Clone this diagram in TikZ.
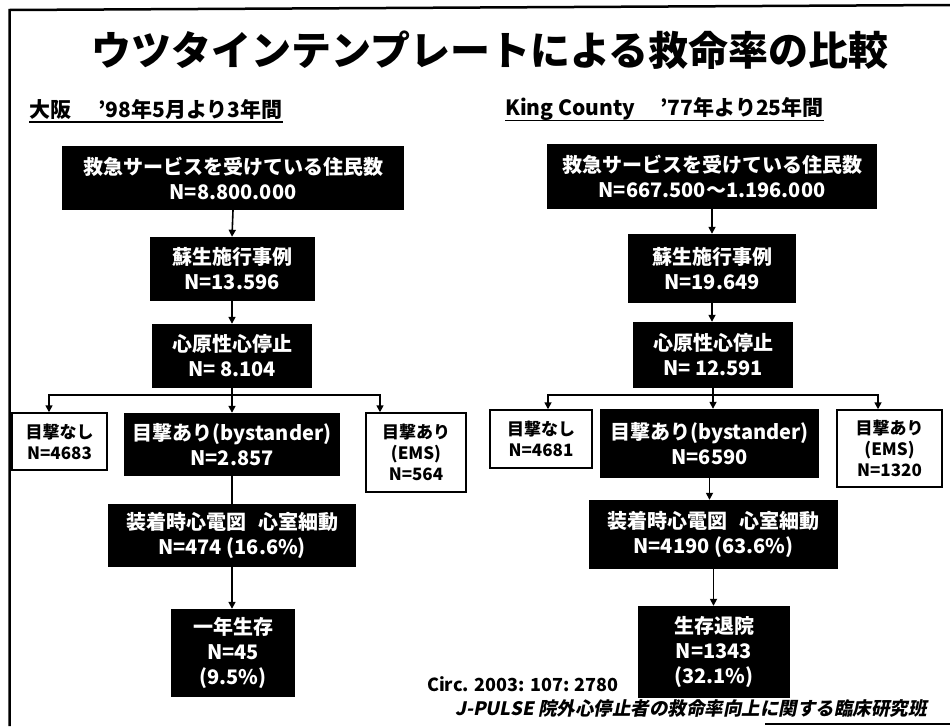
\documentclass[tikz,border=0pt]{standalone}
\usepackage{fontspec}
\setmainfont{Noto Sans CJK JP}
\newfontfamily\jpit{Noto Sans CJK JP}[FakeSlant=0.2]
\usetikzlibrary{arrows.meta}
\tikzset{
  blk/.style={fill=black, text=white, inner sep=0pt, align=center,
    font=\bfseries\fontsize{20}{25}\selectfont},
  wht/.style={draw=black, line width=1.5pt, fill=white, inner sep=0pt, align=center,
    font=\bfseries\fontsize{17}{21}\selectfont},
  conn/.style={line width=1.6pt},
  arr/.style={conn, -{Triangle[length=7pt,width=7pt]}},
  subt/.style={anchor=west, inner sep=0pt, font=\bfseries\fontsize{21}{21}\selectfont},
  frame/.style={line width=2.5pt},
}
\begin{document}
\begin{tikzpicture}[x=1pt,y=-1pt]
\useasboundingbox (0,0) rectangle (950,726);
% frame
\draw[frame] (9.5,726) -- (9.5,10) -- (950,5);
\draw[line width=1.5pt] (765,724) -- (950,724);
% title
\node[inner sep=0pt, font=\bfseries\fontsize{40}{40}\selectfont] (title) at (490,50) {ウツタインテンプレートによる救命率の比較};
% subtitles
\node[subt] (s1) at (29,109) {大阪\hspace{1.3em}’98年5月より3年間};
\node[subt] (s2) at (505,109) {King County\hspace{1.2em}’77年より25年間};
\draw[line width=1.6pt] ([yshift=-5pt]s1.base west) -- ([yshift=-5pt]s1.base east);
\draw[line width=1.6pt] ([yshift=-5pt]s2.base west) -- ([yshift=-5pt]s2.base east);

% ---------- left (Osaka) ----------
\node[blk, minimum width=342pt, minimum height=64pt] (L1) at (233,178) {救急サービスを受けている住民数\\N=8.800.000};
\node[blk, minimum width=165pt, minimum height=64pt] (L2) at (232,269) {蘇生施行事例\\N=13.596};
\node[blk, minimum width=160pt, minimum height=64pt] (L3) at (232,356) {心原性心停止\\N=\ 8.104};
\node[wht, minimum width=95pt, minimum height=57pt] (LN) at (59.5,441.5) {目撃なし\\N=4683};
\node[blk, minimum width=216pt, minimum height=63pt] (LB) at (232,444.5) {目撃あり(bystander)\\N=2.857};
\node[wht, minimum width=100pt, minimum height=79pt] (LE) at (416,452.5) {目撃あり\\(EMS)\\N=564};
\node[blk, minimum width=248pt, minimum height=63pt] (LV) at (232,535.5) {装着時心電図\hspace{0.6em}心室細動\\N=474 (16.6\%)};
\node[blk, minimum width=124pt, minimum height=88pt] (LS) at (233,653) {一年生存\\N=45\\(9.5\%)};
\coordinate (lbr) at (232,395);
\draw[arr] (L1.south) -- (L2.north);
\draw[arr] (L2.south) -- (L3.north);
\draw[arr] (L3.south) -- (LB.north);
\draw[arr] (lbr) -| ([xshift=-10.5pt]LN.north);
\draw[arr] (lbr) -| ([xshift=-36pt]LE.north);
\draw[conn] (LB.south) -- (LV.north);
\draw[arr] (LV.south) -- (LV.south |- LS.north);

% ---------- right (King County) ----------
\node[blk, minimum width=330pt, minimum height=65pt] (R1) at (712,176.5) {救急サービスを受けている住民数\\N=667.500～1.196.000};
\node[blk, minimum width=168pt, minimum height=69pt] (R2) at (712,268.5) {蘇生施行事例\\N=19.649};
\node[blk, minimum width=160pt, minimum height=66pt] (R3) at (713,355) {心原性心停止\\N=\ 12.591};
\node[wht, minimum width=102pt, minimum height=58pt] (RN) at (541,439) {目撃なし\\N=4681};
\node[blk, minimum width=219pt, minimum height=69pt] (RB) at (709.5,443.5) {目撃あり(bystander)\\N=6590};
\node[wht, minimum width=105pt, minimum height=77pt] (RE) at (889.5,448.5) {目撃あり\\(EMS)\\N=1320};
\node[blk, minimum width=249pt, minimum height=69pt] (RV) at (713.5,534.5) {装着時心電図\hspace{0.6em}心室細動\\N=4190 (63.6\%)};
\node[blk, minimum width=152pt, minimum height=92pt] (RS) at (714,652) {生存退院\\N=1343\\(32.1\%)};
\coordinate (rbr) at (712,395);
\draw[arr] (R1.south) -- (R1.south |- R2.north);
\draw[arr] (R2.south) -- (R2.south |- R3.north);
\draw[arr] (R3.south) -- (R3.south |- RB.north);
\draw[arr] (rbr) -| ([xshift=7pt]RN.north);
\draw[arr] (rbr) -| ([xshift=-11.5pt]RE.north);
\draw[arr] (RB.south) -- (RB.south |- RV.north);
\draw[arr] (RV.south) -- (RV.south |- RS.north);

% ---------- references ----------
\node[anchor=west, inner sep=0pt, font=\bfseries\fontsize{18}{18}\selectfont] (circ) at (427,684) {Circ. 2003: 107: 2780};
\node[anchor=west, inner sep=0pt, font=\jpit\bfseries\fontsize{18.5}{18.5}\selectfont] (jp) at (455,709) {J-PULSE 院外心停止者の救命率向上に関する臨床研究班};
\end{tikzpicture}
\end{document}
